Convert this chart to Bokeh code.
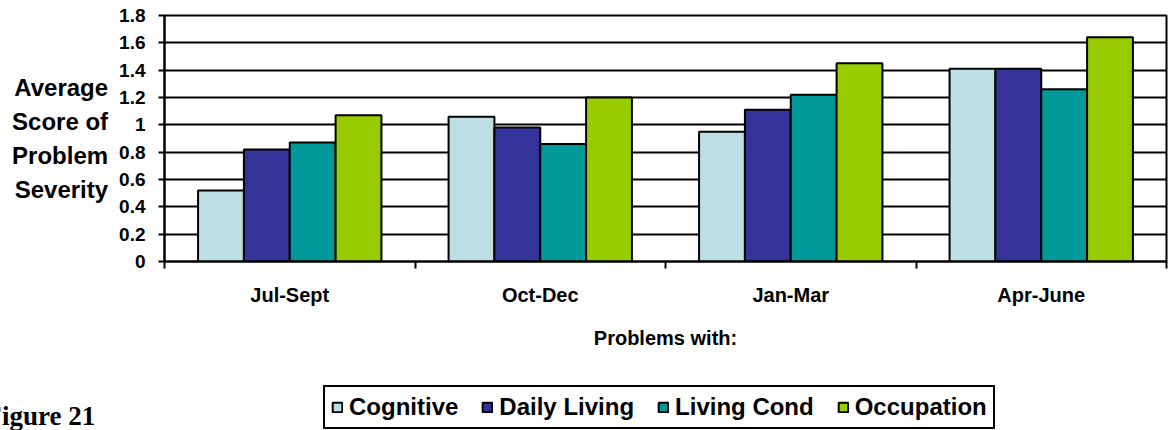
from bokeh.plotting import figure
from bokeh.layouts import column
from bokeh.models import (FactorRange, Range1d, LinearAxis, CategoricalAxis,
                          FixedTicker, Label, ColumnDataSource)
from bokeh.transform import dodge
from bokeh.embed import file_html
from bokeh.resources import INLINE

# ---- data ----
quarters = ["Jul-Sept", "Oct-Dec", "Jan-Mar", "Apr-June"]
series_names = ["Cognitive", "Daily Living", "Living Cond", "Occupation"]
cognitive = [0.52, 1.06, 0.95, 1.41]
daily_living = [0.82, 0.98, 1.11, 1.41]
living_cond = [0.87, 0.86, 1.22, 1.26]
occupation = [1.07, 1.20, 1.45, 1.64]
ytick_values = [0, 0.2, 0.4, 0.6, 0.8, 1, 1.2, 1.4, 1.6, 1.8]
ytick_labels = ["0", "0.2", "0.4", "0.6", "0.8", "1", "1.2", "1.4", "1.6", "1.8"]
y_title = "Average\nScore of\nProblem\nSeverity"
x_title = "Problems with:"
caption = "Figure 21"

colors = ["#BBDFE2", "#333399", "#009999", "#99CC00"]
FONT = "Liberation Sans"

source = ColumnDataSource(dict(quarter=quarters, Cognitive=cognitive,
                               DailyLiving=daily_living, LivingCond=living_cond,
                               Occupation=occupation))
cols = ["Cognitive", "DailyLiving", "LivingCond", "Occupation"]
bw = 0.183
offsets = [-1.5 * bw, -0.5 * bw, 0.5 * bw, 1.5 * bw]

# ---------------- main chart ----------------
p = figure(width=1169, height=380, x_range=FactorRange(*quarters),
           y_range=Range1d(0, 1.8), x_axis_type=None,
           output_backend="svg", toolbar_location=None,
           min_border_left=164, min_border_right=3, min_border_top=15,
           min_border_bottom=119)
p.background_fill_color = "white"
p.border_fill_color = "white"
p.outline_line_color = "black"
p.outline_line_width = 2

for col, c, off in zip(cols, colors, offsets):
    p.vbar(x=dodge("quarter", off, range=p.x_range), top=col, width=bw,
           source=source, fill_color=c, line_color="black", line_width=2)

yax = p.yaxis[0]
yax.ticker = FixedTicker(ticks=ytick_values)
yax.major_label_overrides = dict(zip(ytick_values, ytick_labels))
yax.major_tick_out = 6
yax.major_tick_in = 0
yax.minor_tick_line_color = None
yax.axis_line_width = 2
yax.axis_line_color = "black"
yax.major_tick_line_width = 2
yax.major_tick_line_color = "black"
yax.major_label_standoff = 13
yax.major_label_text_font = FONT
yax.major_label_text_font_style = "bold"
yax.major_label_text_font_size = "19px"
yax.major_label_text_color = "black"
yax.axis_label = y_title
yax.axis_label_orientation = "horizontal"
yax.axis_label_standoff = 8
yax.axis_label_text_font = FONT
yax.axis_label_text_font_style = "bold"
yax.axis_label_text_font_size = "24px"
yax.axis_label_text_line_height = 1.25
yax.axis_label_text_align = "center"
yax.axis_label_text_color = "black"

p.ygrid.ticker = FixedTicker(ticks=ytick_values)
p.ygrid.grid_line_color = "black"
p.ygrid.grid_line_width = 2
p.xgrid.grid_line_color = None

# x boundary ticks (category boundaries in synthetic coordinates)
bounds = list(range(len(quarters) + 1))
tick_axis = LinearAxis(ticker=FixedTicker(ticks=bounds),
                       major_label_overrides={b: "" for b in bounds},
                       major_tick_out=7, major_tick_in=0,
                       major_tick_line_width=2, major_tick_line_color="black",
                       axis_line_width=2, axis_line_color="black",
                       minor_tick_line_color=None,
                       major_label_text_font_size="1px", major_label_standoff=0)
p.add_layout(tick_axis, "below")

cat_axis = CategoricalAxis(axis_line_color=None, major_tick_line_color=None,
                           major_tick_out=0, major_tick_in=0,
                           major_label_standoff=15,
                           major_label_text_font=FONT,
                           major_label_text_font_style="bold",
                           major_label_text_font_size="20px",
                           major_label_text_color="black",
                           axis_label=x_title,
                           axis_label_standoff=18,
                           axis_label_text_font=FONT,
                           axis_label_text_font_style="bold",
                           axis_label_text_font_size="20px",
                           axis_label_text_color="black")
p.add_layout(cat_axis, "below")

# ---------------- bottom strip: caption + legend ----------------
q = figure(width=1169, height=50, x_range=FactorRange(*quarters),
           y_range=Range1d(0, 50),
           x_axis_type=None, y_axis_type=None,
           output_backend="svg", toolbar_location=None,
           min_border=0, min_border_left=0, min_border_right=0,
           min_border_top=0, min_border_bottom=0)
if "frame_align" in q.properties():
    q.frame_align = False
    p.frame_align = False
q.outline_line_color = None
q.xgrid.grid_line_color = None
q.ygrid.grid_line_color = None
q.background_fill_color = "white"
q.border_fill_color = "white"

# legend keys: hidden copies of the series, styled like the bars above
for col, name, c, off in zip(cols, series_names, colors, offsets):
    q.vbar(x=dodge("quarter", off, range=q.x_range), top=col, width=bw,
           source=source, fill_color=c, line_color="black", line_width=2,
           legend_label=name, visible=False)

lg = q.legend[0]
lg.location = (323, 1)
lg.orientation = "horizontal"
lg.border_line_color = "black"
lg.border_line_alpha = 1
lg.border_line_width = 2
lg.background_fill_color = "white"
lg.background_fill_alpha = 1
lg.inactive_fill_alpha = 0
lg.label_text_font = FONT
lg.label_text_font_style = "bold"
lg.label_text_font_size = "24px"
lg.label_text_color = "black"
lg.glyph_width = 12
lg.glyph_height = 12
lg.label_standoff = 6
lg.spacing = 23
lg.padding = 6
lg.margin = 0
lg.click_policy = "none"

q.add_layout(Label(x=-0.0513, y=15, text=caption, text_align="left",
                   text_baseline="alphabetic",
                   text_font="Liberation Serif", text_font_style="bold",
                   text_font_size="27px", text_color="black"))

layout = column(p, q, spacing=0)
open("out.html", "w").write(file_html(layout, INLINE))
